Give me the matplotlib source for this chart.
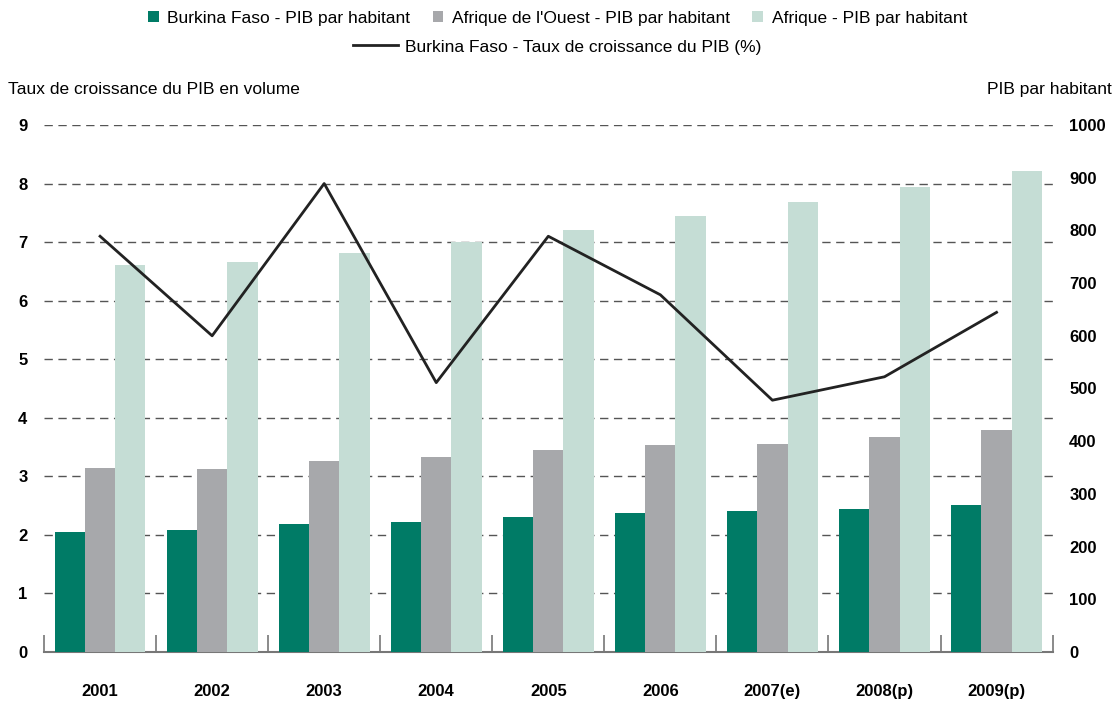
import matplotlib.pyplot as plt
import numpy as np

plt.rcParams['font.family'] = ['Liberation Sans', 'DejaVu Sans']

# Données
annees = ["2001", "2002", "2003", "2004", "2005", "2006", "2007(e)", "2008(p)", "2009(p)"]
pib_burkina = [228, 231, 243, 247, 256, 264, 268, 271, 279]
pib_ouest = [349, 347, 362, 370, 383, 393, 395, 408, 421]
pib_afrique = [734, 740, 757, 778, 801, 827, 854, 882, 913]
croissance = [7.1, 5.4, 8.0, 4.6, 7.1, 6.1, 4.3, 4.7, 5.8]

vert = "#007b66"
gris = "#a7a8ab"
vert_clair = "#c5ddd5"

fig = plt.figure(figsize=(11.15, 7.01), dpi=100)
ax = fig.add_axes([0.0395, 0.0699, 0.9045, 0.7518])
ax2 = ax.twinx()
ax3 = ax.twinx()

x = np.arange(len(annees))
w = 0.27

# axe gauche : grille et graduations
ax.set_xlim(-0.5, len(annees) - 0.5)
ax.set_ylim(0, 9)
ax.set_yticks(range(0, 10))
ax.yaxis.grid(True, linestyle=(0, (6, 4)), color="#555555", linewidth=1)
ax.tick_params(axis="y", length=0, pad=12, labelsize=12)
for lab in ax.get_yticklabels():
    lab.set_fontweight("bold")
ax.get_ygridlines()[0].set_visible(False)
ax.set_xticks(x)
ax.set_xticklabels(annees, fontweight="bold", fontsize=12)
ax.set_xticks(np.arange(-0.5, len(annees)), minor=True)
ax.tick_params(axis="x", which="major", length=0, pad=23)
ax.tick_params(axis="x", which="minor", direction="in", length=12, color="#777777", width=1.2)
for s in ["top", "left", "right"]:
    ax.spines[s].set_visible(False)
ax.spines["bottom"].set_color("#777777")
ax.spines["bottom"].set_linewidth(1.5)

# axe droit : barres
b1 = ax2.bar(x - w, pib_burkina, w, color=vert, label="Burkina Faso - PIB par habitant")
b2 = ax2.bar(x, pib_ouest, w, color=gris, label="Afrique de l'Ouest - PIB par habitant")
b3 = ax2.bar(x + w, pib_afrique, w, color=vert_clair, label="Afrique - PIB par habitant")
ax2.set_ylim(0, 1000)
ax2.set_yticks(range(0, 1001, 100))
ax2.tick_params(axis="y", length=0, pad=12, labelsize=12)
for lab in ax2.get_yticklabels():
    lab.set_fontweight("bold")
for s in ax2.spines.values():
    s.set_visible(False)

# courbe de croissance
ax3.set_ylim(0, 9)
ln, = ax3.plot(x, croissance, color="#222222", linewidth=2,
               label="Burkina Faso - Taux de croissance du PIB (%)")
ax3.set_yticks([])
for s in ax3.spines.values():
    s.set_visible(False)

fig.text(0.007, 0.872, "Taux de croissance du PIB en volume", fontsize=12.5, va="center")
fig.text(0.997, 0.872, "PIB par habitant", fontsize=12.5, va="center", ha="right")

fig.legend(handles=[b1, b2, b3], loc="center", bbox_to_anchor=(0.5, 0.974),
           ncol=3, frameon=False, fontsize=12.5, handlelength=0.6, handleheight=0.6,
           handletextpad=0.5, columnspacing=1.3)
fig.legend(handles=[ln], loc="center", bbox_to_anchor=(0.5, 0.933), frameon=False,
           fontsize=12.5, handlelength=2.6, handletextpad=0.4)

fig.savefig("out.png", dpi=100)
